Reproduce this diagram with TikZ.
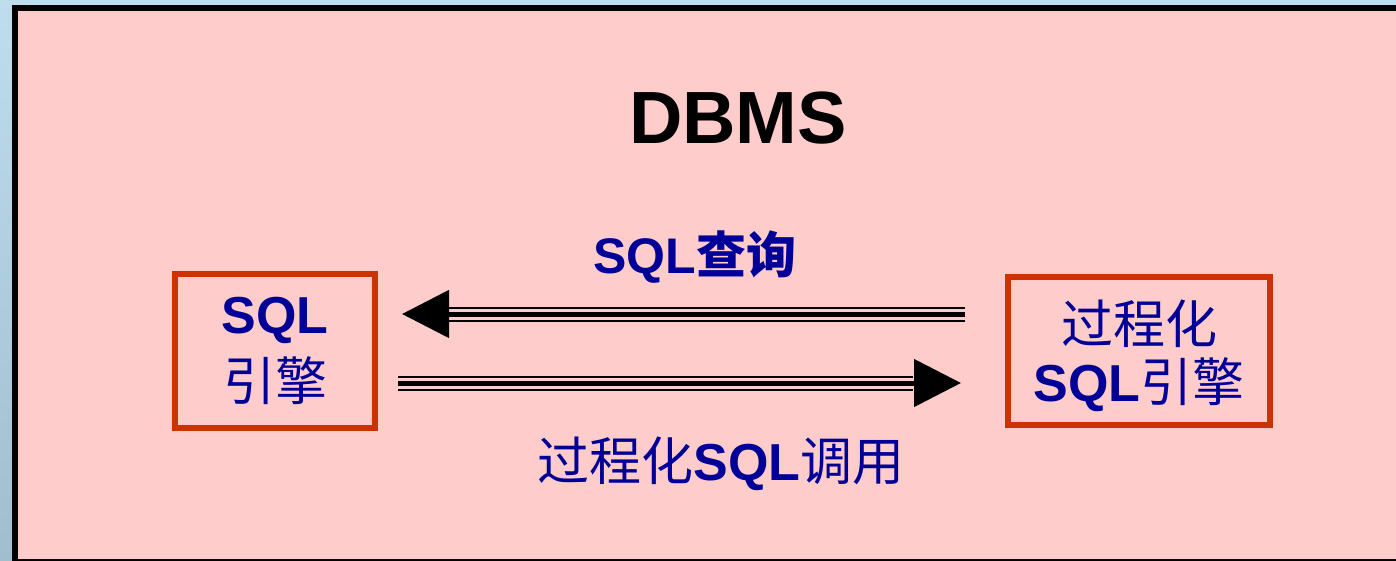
\documentclass[tikz,border=0pt]{standalone}
\usepackage{fontspec}
\setmainfont{Liberation Sans}
\newfontfamily\cjk{Noto Sans CJK SC}
\usetikzlibrary{arrows.meta}
\definecolor{pinkbg}{RGB}{255,204,204}
\definecolor{boxred}{RGB}{204,51,0}
\definecolor{navy}{RGB}{0,0,153}
\definecolor{skytop}{RGB}{190,221,238}
\definecolor{skybot}{RGB}{160,190,204}
\tikzset{
  engine/.style={draw=boxred, line width=3pt, text=navy, align=center, inner sep=0pt},
  lbl/.style={text=navy, font=\fontsize{26}{30}\selectfont},
  rail/.style={draw=black, line width=1pt, double=pinkbg, double distance=5.5pt},
  midrail/.style={draw=black, line width=2.5pt, -{Triangle[length=23.5pt,width=23.5pt]}}
}
\begin{document}
\begin{tikzpicture}[x=0.5pt,y=-0.5pt]
    \useasboundingbox (0,0) rectangle (1396,561);
    \shade[top color=skytop, bottom color=skybot] (0,0) rectangle (1396,561);
    \draw[line width=3pt, fill=pinkbg] (14.5,8) rectangle (1420,562);

    \node (dbms) at (738,118) {\fontsize{37}{40}\selectfont\bfseries DBMS};
    \node [engine, minimum width=100pt, minimum height=77pt,
           font=\fontsize{26}{33.5}\selectfont] (sql) at (275,351)
          {{\bfseries SQL}\\{\cjk 引擎}};
    \node [engine, minimum width=131pt, minimum height=74pt, text depth=0pt,
           font=\fontsize{26}{29}\selectfont] (proc) at (1139,351)
          {{\cjk 过程化}\\{\bfseries SQL}{\cjk 引擎}};
    \node [lbl, font=\fontsize{25}{30}\selectfont] (query) at (695,257)
          {{\bfseries SQL}{\cjk\bfseries 查询}};
    \node [lbl] (call) at (721,464) {{\cjk 过程化}{\bfseries SQL}{\cjk 调用}};

    % query: procedural engine -> SQL engine
    \draw [rail, shorten <=20pt, shorten >=35.5pt] ([yshift=18.5pt]proc.west) -- ([yshift=18.5pt]sql.east);
    \draw [midrail, shorten <=20pt, shorten >=12pt] ([yshift=18.5pt]proc.west) -- ([yshift=18.5pt]sql.east);
    % call: SQL engine -> procedural engine
    \draw [rail, shorten <=10pt, shorten >=46pt] ([yshift=-16pt]sql.east) -- ([yshift=-16pt]proc.west);
    \draw [midrail, shorten <=10pt, shorten >=22pt] ([yshift=-16pt]sql.east) -- ([yshift=-16pt]proc.west);
\end{tikzpicture}
\end{document}
